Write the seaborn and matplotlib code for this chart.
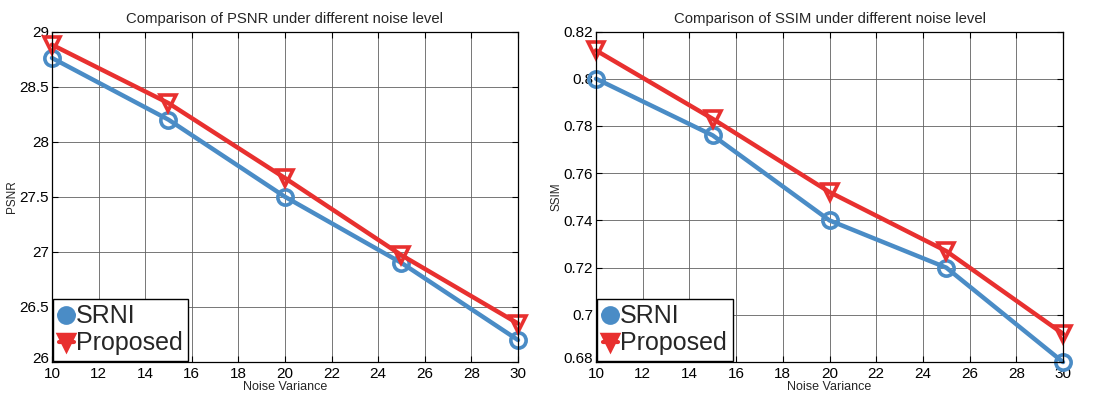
import numpy as np
import pandas as pd
import matplotlib
matplotlib.use("Agg")
import matplotlib.pyplot as plt
import matplotlib.transforms as mtransforms
import seaborn as sns

noise = [10, 15, 20, 25, 30]
psnr_srni = [28.76, 28.20, 27.50, 26.90, 26.20]
psnr_prop = [28.88, 28.35, 27.67, 26.97, 26.35]
ssim_srni = [0.800, 0.776, 0.740, 0.720, 0.680]
ssim_prop = [0.812, 0.783, 0.752, 0.727, 0.692]
methods = ["SRNI", "Proposed"]
colors = {"SRNI": "#4a8cc6", "Proposed": "#e8302f"}
markers = {"SRNI": "o", "Proposed": "v"}

sns.set_theme(style="white")
plt.rcParams["font.family"] = ["Liberation Sans", "DejaVu Sans"]

df_psnr = pd.DataFrame({
    "Noise Variance": noise * 2,
    "value": psnr_srni + psnr_prop,
    "method": ["SRNI"] * 5 + ["Proposed"] * 5,
})
df_ssim = pd.DataFrame({
    "Noise Variance": noise * 2,
    "value": ssim_srni + ssim_prop,
    "method": ["SRNI"] * 5 + ["Proposed"] * 5,
})

fig = plt.figure(figsize=(10.94, 3.94), dpi=100)
ax1 = fig.add_axes([0.0475, 0.081, 0.426, 0.839])
ax2 = fig.add_axes([0.5448, 0.081, 0.4269, 0.839])

def draw(ax, df, ylabel, title, ylim, yticks, yticklabels):
    sns.lineplot(data=df, x="Noise Variance", y="value", hue="method",
                 style="method", markers=markers, dashes=False,
                 palette=colors, hue_order=methods, style_order=methods,
                 linewidth=3.2, ax=ax, legend=False)
    for ln in ax.lines:
        c = ln.get_color()
        ln.set_markeredgecolor(c)
        ln.set_markerfacecolor("none")
        ln.set_markersize(11)
        ln.set_markeredgewidth(2.6)
        ln.set_clip_on(False)
    ax.set_xlim(10, 30)
    ax.set_ylim(*ylim)
    ax.set_xticks(np.arange(10, 31, 2))
    ax.set_yticks(yticks)
    ax.set_yticklabels(yticklabels)
    ax.grid(True, color="#606060", linewidth=0.6, linestyle="-")
    ax.set_axisbelow(True)
    for s in ax.spines.values():
        s.set_color("black")
        s.set_linewidth(0.9)
    ax.tick_params(direction="in", length=4, width=0.8, labelsize=11,
                   colors="black", top=True, right=True,
                   bottom=True, left=True)
    ax.tick_params(axis="x", pad=3.5)
    ax.tick_params(axis="y", pad=2)
    # nudge the lowest y label up a little so it does not collide with "10"
    lab0 = ax.get_yticklabels()[0]
    lab0.set_transform(lab0.get_transform() +
                       mtransforms.ScaledTranslation(0, 3 / 72, fig.dpi_scale_trans))
    ax.set_xlabel("Noise Variance", fontsize=9, labelpad=0)
    ax.set_ylabel(ylabel, fontsize=8.5, labelpad=1)
    ax.set_title(title, fontsize=10.7, pad=6)
    handles = [
        plt.Line2D([], [], color=colors[m], marker=markers[m], linewidth=3,
                   markersize=11, markeredgewidth=2.5,
                   markerfacecolor=colors[m]) for m in methods
    ]
    leg = ax.legend(handles, methods, loc="lower left", fontsize=18,
                    handlelength=0.6, handletextpad=0.1, borderpad=0.22,
                    borderaxespad=0.05, labelspacing=0.12, frameon=True,
                    fancybox=False, framealpha=1)
    leg.get_frame().set_edgecolor("black")
    leg.get_frame().set_linewidth(1.0)

draw(ax1, df_psnr, "PSNR", "Comparison of PSNR under different noise level",
     (26, 29), [26, 26.5, 27, 27.5, 28, 28.5, 29],
     ["26", "26.5", "27", "27.5", "28", "28.5", "29"])
draw(ax2, df_ssim, "SSIM", "Comparison of SSIM under different noise level",
     (0.68, 0.82), [0.68, 0.70, 0.72, 0.74, 0.76, 0.78, 0.80, 0.82],
     ["0.68", "0.7", "0.72", "0.74", "0.76", "0.78", "0.8", "0.82"])

fig.savefig("out.png", dpi=100)
